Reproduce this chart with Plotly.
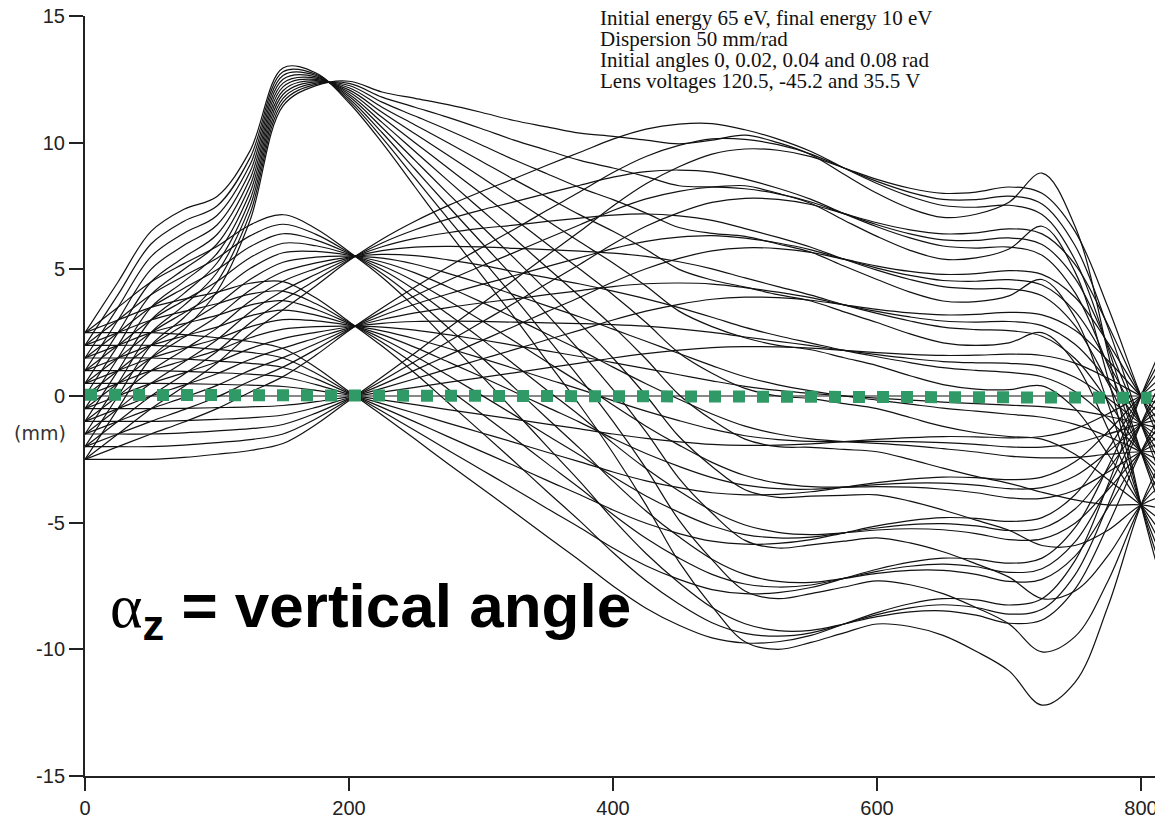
import numpy as np
import plotly.graph_objects as go

# ---------------- data ----------------
# sample positions along the optical axis (mm)
x_mm = [0, 25, 50, 75, 100, 125, 150, 175, 200, 225, 250, 275, 300, 325, 350, 375, 400,
        425, 450, 475, 500, 525, 550, 575, 600, 625, 650, 675, 700, 725, 750, 775, 800, 825]

# initial positions (mm) at the entrance
start_positions = [-2.5, -2.0, -1.5, -1.0, -0.5, 0.0, 0.5, 1.0, 1.5, 2.0, 2.5]

# initial angles (rad)
angles = [0.0, 0.02, 0.04, 0.08]

# field ray (position per mm of start offset) for the 0 / 0.02 / 0.04 rad families
field_ray = [1.00, 1.00, 1.00, 0.97, 0.92, 0.86, 0.75, 0.45, 0.07, -0.30, -0.68, -1.07, -1.45,
             -1.83, -2.22, -2.60, -3.00, -3.35, -3.62, -3.82, -3.90, -3.88, -3.78, -3.60,
             -3.42, -3.28, -3.20, -3.22, -3.30, -3.20, -2.60, -1.40, 0.00, 1.20]

# axial ray (mm per rad) for the 0 / 0.02 / 0.04 rad families
axial_ray = [0, 25, 50, 70, 90, 115, 132, 137, 138, 136, 130, 121, 111, 100, 89, 78, 66,
             54, 42, 30, 19, 11, 5, 0, -4, -8, -12, -15, -18, -21, -28, -40, -55, -70]

# central ray (mm) of the 0.08 rad family
center_008 = [0.0, 2.0, 4.0, 5.0, 6.0, 8.3, 12.2, 12.5, 12.0, 11.0, 10.0, 9.0, 8.0, 7.0, 6.0,
              5.0, 4.0, 2.9, 1.7, 0.9, 0.3, 0.0, -0.1, -0.3, -0.5, -0.85, -1.2, -1.45, -1.6,
              -1.7, -2.3, -3.3, -4.3, -5.3]

# field ray of the 0.08 rad family
field_008 = [1.00, 1.00, 1.00, 0.95, 0.75, 0.55, 0.30, 0.10, -0.17, -0.40, -0.70, -1.00, -1.28,
             -1.55, -1.85, -2.15, -2.50, -2.88, -3.30, -3.68, -4.00, -4.00, -3.85, -3.62,
             -3.40, -3.30, -3.30, -3.45, -3.70, -4.20, -3.60, -2.00, 0.00, 1.50]

# axis (dotted green) line
axis_x = [0, 808]
axis_y = [0.05, -0.07]

x_ticks = [0, 200, 400, 600, 800]
y_ticks = [-15, -10, -5, 0, 5, 10, 15]
y_tick_text = ["-15", "-10", "-5", "0", "5", "10", "15"]

info_lines = ["Initial energy 65 eV, final energy 10 eV",
              "Dispersion 50 mm/rad",
              "Initial angles 0, 0.02, 0.04 and 0.08 rad",
              "Lens voltages 120.5, -45.2 and 35.5 V"]

# ---------------- figure ----------------
fig = go.Figure()

xs = np.array(x_mm, dtype=float)
f_abc = np.array(field_ray)
h_abc = np.array(axial_ray, dtype=float)
c_d = np.array(center_008)
f_d = np.array(field_008)

for a in angles:
    if a == 0.08:
        center, field = c_d, f_d
    else:
        center, field = a * h_abc, f_abc
    for y0 in start_positions:
        ys = center + y0 * field
        fig.add_trace(go.Scatter(
            x=xs, y=ys, mode="lines",
            line=dict(color="#121212", width=1.2, shape="spline", smoothing=1.0),
            hoverinfo="skip", showlegend=False))

fig.add_trace(go.Scatter(
    x=axis_x, y=axis_y, mode="lines",
    line=dict(color="#2f9a66", width=12, dash="12px,12px"),
    hoverinfo="skip", showlegend=False))

# page has an 8px body margin: plot area wanted at page x 85..1163, y 16..776
W, H = 1163, 825
OFF = 8
L = 85 - OFF
T = 16 - OFF
B = H - (776 - OFF)
R = OFF
plot_w = W - L - R
plot_h = H - T - B
x_max = plot_w / 1.32

fig.update_layout(
    width=W, height=H,
    margin=dict(l=L, r=R, t=T, b=B, pad=0),
    paper_bgcolor="white", plot_bgcolor="white",
    showlegend=False,
    xaxis=dict(range=[0, x_max], tickvals=x_ticks, ticks="outside", ticklen=13,
               tickwidth=2, tickcolor="#222", showline=True, linecolor="#222", linewidth=2,
               showgrid=False, zeroline=False, automargin=False, ticklabeloverflow="allow",
               tickfont=dict(family="Liberation Sans, Arial", size=20, color="#222")),
    yaxis=dict(range=[-15, 15], tickvals=y_ticks, ticktext=y_tick_text, ticks="outside",
               ticklen=14, tickwidth=2, tickcolor="#222", showline=True, linecolor="#222",
               linewidth=2, showgrid=False, zeroline=False, automargin=False,
               ticklabeloverflow="allow",
               tickfont=dict(family="Liberation Sans, Arial", size=20, color="#222")),
)

def px_x(page_x):
    return (page_x - 85) / plot_w

def px_y(page_y):
    return (776 - page_y) / plot_h

line_y = [18, 39, 60, 81]
for txt, py in zip(info_lines, line_y):
    fig.add_annotation(text=txt, xref="paper", yref="paper",
                       x=px_x(598), y=px_y(py),
                       xanchor="left", yanchor="middle", showarrow=False,
                       font=dict(family="Liberation Serif, Times New Roman", size=21, color="#111"))

fig.add_annotation(text="(mm)", xref="paper", yref="y",
                   x=px_x(40), y=-1.45, xanchor="center", yanchor="middle",
                   showarrow=False,
                   font=dict(family="DejaVu Sans, Arial", size=19, color="#333"))

fig.add_annotation(
    text='<span style="font-family:Liberation Serif;font-weight:normal">α</span>'
         '<sub><b>z</b></sub><b> = vertical angle</b>',
    xref="paper", yref="y", x=px_x(108), y=-8.45,
    xanchor="left", yanchor="middle", showarrow=False,
    font=dict(family="Liberation Sans, Arial", size=62, color="black"))

fig.write_html("out.html")
